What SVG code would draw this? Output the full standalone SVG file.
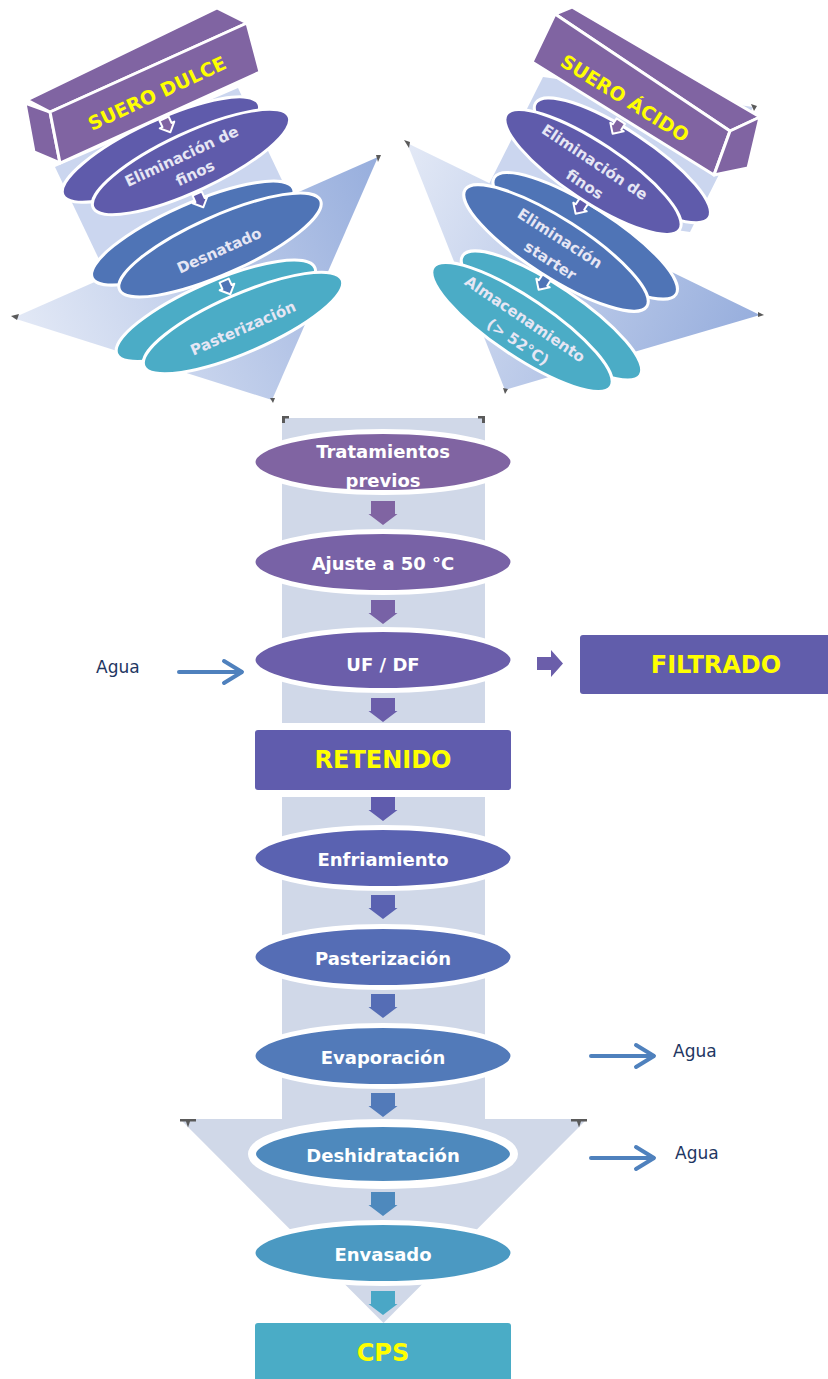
<svg xmlns="http://www.w3.org/2000/svg" width="828" height="1379" viewBox="0 0 828 1379">
  <defs>
    <style>
      .lbl{font-family:"Comic Sans MS","DejaVu Sans",sans-serif;font-weight:bold;font-size:18px;fill:#ffffff;text-anchor:middle}
      .yel{font-family:"Comic Sans MS","DejaVu Sans",sans-serif;font-weight:bold;font-size:24px;fill:#ffff00;text-anchor:middle}
      .tl{font-family:"Comic Sans MS","DejaVu Sans",sans-serif;font-weight:bold;font-size:15px;fill:#e6e6f4;text-anchor:middle}
      .ty{font-family:"Comic Sans MS","DejaVu Sans",sans-serif;font-weight:bold;font-size:19px;fill:#ffff00;text-anchor:middle}
      .agua{font-family:"Comic Sans MS","DejaVu Sans",sans-serif;font-size:17px;fill:#1f3763}
      .step{stroke:#ffffff;stroke-width:5}
      .disc{stroke:#ffffff;stroke-width:3}
      .box{stroke:#ffffff;stroke-width:3;stroke-linejoin:round}
      .flow{fill:none;stroke:#4f81bd;stroke-width:4;stroke-linecap:round;stroke-linejoin:round}
      .mk{fill:#5a5a5a}
      .back{fill:#d0d8e8}
      .mini{stroke:#ffffff;stroke-width:2;stroke-linejoin:round}
    </style>
    <linearGradient id="triL" gradientUnits="userSpaceOnUse" x1="13" y1="318" x2="378" y2="157">
      <stop offset="0" stop-color="#e3e9f6"/>
      <stop offset="1" stop-color="#97aedd"/>
    </linearGradient>
    <linearGradient id="triR" gradientUnits="userSpaceOnUse" x1="407" y1="143" x2="760" y2="315">
      <stop offset="0" stop-color="#e3e9f6"/>
      <stop offset="1" stop-color="#97aedd"/>
    </linearGradient>
    <!-- block arrow pointing down, top at y=0 -->
    <path id="dn" d="M-12,0 H12 V13 H14.5 L0,24 L-14.5,13 H-12 Z"/>
    <!-- small arrow between 3D discs -->
    <path id="mini" d="M-5,-7 H5 V0 H8 L0,8 L-8,0 H-5 Z"/>
  </defs>

  <!-- ===== Sweet whey cluster (top left) ===== -->
  <g id="cluster-dulce">
    <polygon points="55,167 238,88 300,218 117,297" fill="#cbd6ef"/>
    <polygon points="13,318 378,157 272,400" fill="url(#triL)"/>
    <path class="mk" d="M11,316 l8,-2 l-2,6 z M376,155 l5,0 l-3,7 z M270,398 l5,0 l-2,5 z"/>

    <g id="dulce-pasteurizacion" transform="translate(243,323) rotate(-23.6)">
      <ellipse cx="-20" cy="-22" rx="108" ry="29" fill="#4bacc6" class="disc"/>
      <ellipse cx="0" cy="0" rx="108" ry="29" fill="#4bacc6" class="disc"/>
      <text class="tl" x="-2" y="10">Pasterización</text>
    </g>
    <g id="dulce-desnatado" transform="translate(220,245) rotate(-24)">
      <ellipse cx="-20" cy="-22" rx="110" ry="29" fill="#4f74b6" class="disc"/>
      <ellipse cx="0" cy="0" rx="110" ry="29" fill="#4f74b6" class="disc"/>
      <text class="tl" x="-3" y="10">Desnatado</text>
    </g>
    <g id="dulce-finos" transform="translate(191,162) rotate(-25)">
      <ellipse cx="-22" cy="-24" rx="108" ry="29" fill="#5f5bab" class="disc"/>
      <ellipse cx="0" cy="0" rx="108" ry="29" fill="#5f5bab" class="disc"/>
      <text class="tl" x="-6" y="-4">Eliminación de</text>
      <text class="tl" x="-1" y="17">finos</text>
    </g>
    <g id="suero-dulce">
      <polygon class="box" points="25,103 50,112 60,163 34,152" fill="#8064a2"/>
      <polygon class="box" points="27,100 217,8 247,23 50,112" fill="#8064a2"/>
      <polygon class="box" points="50,112 247,23 260,72 60,163" fill="#8064a2"/>
      <text class="ty" transform="translate(157,93) rotate(-25)" y="7">SUERO DULCE</text>
    </g>
  </g>

  <!-- ===== Acid whey cluster (top right) ===== -->
  <g id="cluster-acido">
    <polygon points="543,77 753,107 690,232 480,202" fill="#cbd6ef"/>
    <polygon points="407,143 760,315 505,390" fill="url(#triR)"/>
    <path class="mk" d="M404,140 l6,2 l-1,6 z M758,312 l6,3 l-6,2 z M503,388 l5,1 l-3,5 z M751,104 l6,2 l-3,5 z"/>

    <g id="acido-almacenamiento" transform="translate(522,327) rotate(34)">
      <ellipse cx="18" cy="-26" rx="107" ry="29" fill="#4bacc6" class="disc"/>
      <ellipse cx="0" cy="0" rx="107" ry="29" fill="#4bacc6" class="disc"/>
      <text class="tl" x="-2" y="-3">Almacenamiento</text>
      <text class="tl" x="5" y="20">(&gt; 52°C)</text>
    </g>
    <g id="acido-starter" transform="translate(556,248) rotate(32.7)">
      <ellipse cx="18" cy="-26" rx="108" ry="29" fill="#4f74b6" class="disc"/>
      <ellipse cx="0" cy="0" rx="108" ry="29" fill="#4f74b6" class="disc"/>
      <text class="tl" x="-2" y="-5">Eliminación</text>
      <text class="tl" x="2" y="19">starter</text>
    </g>
    <g id="acido-finos" transform="translate(593,172) rotate(33.6)">
      <ellipse cx="18" cy="-26" rx="104" ry="29" fill="#5f5bab" class="disc"/>
      <ellipse cx="0" cy="0" rx="104" ry="29" fill="#5f5bab" class="disc"/>
      <text class="tl" x="-4" y="-4">Eliminación de</text>
      <text class="tl" x="0" y="20">finos</text>
    </g>
    <g id="suero-acido">
      <polygon class="box" points="555,14 572,7 760,117 730,131" fill="#8064a2"/>
      <polygon class="box" points="532,62 555,14 730,131 714,175" fill="#8064a2"/>
      <polygon class="box" points="730,131 760,117 748,168 714,175" fill="#8064a2"/>
      <text class="ty" transform="translate(625,98) rotate(32)" y="7">SUERO ÁCIDO</text>
    </g>
  </g>

  <!-- ===== Main process column backdrop ===== -->
  <g id="backdrop">
    <rect class="back" x="282" y="418" width="203" height="305"/>
    <rect class="back" x="282" y="797" width="203" height="322"/>
    <polygon class="back" points="180,1119 587,1119 383.5,1323"/>
    <path class="mk" d="M282,416 h7 v2.5 h-4 v4.5 h-3 z M485,416 h-7 v2.5 h4 v4.5 h3 z"/>
    <path class="mk" d="M180,1119 h16 v2.5 h-6 l-2,6 l-2,-6 h-6 z M587,1119 h-16 v2.5 h6 l2,6 l2,-6 h6 z"/>
  </g>

  <!-- ===== Connectors ===== -->
  <g id="connectors">
    <use href="#dn" x="383" y="501" fill="#8064a2"/>
    <use href="#dn" x="383" y="600" fill="#7862a6"/>
    <use href="#dn" x="383" y="698" fill="#6b5eaa"/>
    <use href="#dn" x="383" y="797" fill="#605cad"/>
    <use href="#dn" x="383" y="895" fill="#5a62b1"/>
    <use href="#dn" x="383" y="994" fill="#556db5"/>
    <use href="#dn" x="383" y="1093" fill="#527ab9"/>
    <use href="#dn" x="383" y="1192" fill="#4e89bd"/>
    <use href="#dn" x="383" y="1291" fill="#4aa7c6"/>
    <!-- permeate outlet -->
    <path d="M537,657 H551 V650 L563,663.5 L551,677 V670 H537 Z" fill="#6b5eaa"/>
    <!-- water in / water out -->
    <path class="flow" d="M179,672 H241 M224,661 L242,672 L224,683"/>
    <path class="flow" d="M591,1056 H653 M636,1045 L654,1056 L636,1067"/>
    <path class="flow" d="M591,1158 H653 M636,1147 L654,1158 L636,1169"/>
    <!-- small arrows inside the 3D stacks -->
    <use href="#mini" class="mini" fill="#8064a2" transform="translate(167,125) rotate(-25)"/>
    <use href="#mini" class="mini" fill="#5f5bab" transform="translate(200,200) rotate(-24)"/>
    <use href="#mini" class="mini" fill="#4f74b6" transform="translate(227,287) rotate(-24)"/>
    <use href="#mini" class="mini" fill="#8064a2" transform="translate(617,127) rotate(33)"/>
    <use href="#mini" class="mini" fill="#5f5bab" transform="translate(580,207) rotate(33)"/>
    <use href="#mini" class="mini" fill="#4f74b6" transform="translate(543,283) rotate(33)"/>
  </g>

  <!-- ===== Process steps ===== -->
  <g id="n-tratamientos">
    <ellipse class="step" cx="383" cy="462" rx="130" ry="30.5" fill="#8064a2"/>
    <text class="lbl" x="383" y="458">Tratamientos</text>
    <text class="lbl" x="383" y="487">previos</text>
  </g>
  <g id="n-ajuste">
    <ellipse class="step" cx="383" cy="562" rx="130" ry="30.5" fill="#7862a6"/>
    <text class="lbl" x="383" y="570">Ajuste a 50 °C</text>
  </g>
  <g id="n-ufdf">
    <ellipse class="step" cx="383" cy="660" rx="130" ry="30.5" fill="#6b5eaa"/>
    <text class="lbl" x="383" y="671">UF / DF</text>
  </g>
  <g id="n-retenido">
    <rect x="255" y="730" width="256" height="60" rx="3" fill="#605cad"/>
    <text class="yel" x="383" y="768">RETENIDO</text>
  </g>
  <g id="n-filtrado">
    <rect x="580" y="635" width="254" height="59" rx="3" fill="#615dab"/>
    <text class="yel" x="716" y="673">FILTRADO</text>
  </g>
  <g id="n-enfriamiento">
    <ellipse class="step" cx="383" cy="858" rx="130" ry="30.5" fill="#5a62b1"/>
    <text class="lbl" x="383" y="866">Enfriamiento</text>
  </g>
  <g id="n-pasterizacion">
    <ellipse class="step" cx="383" cy="957" rx="130" ry="30.5" fill="#556db5"/>
    <text class="lbl" x="383" y="965">Pasterización</text>
  </g>
  <g id="n-evaporacion">
    <ellipse class="step" cx="383" cy="1056" rx="130" ry="30.5" fill="#527ab9"/>
    <text class="lbl" x="383" y="1064">Evaporación</text>
  </g>
  <g id="n-deshidratacion">
    <ellipse cx="383" cy="1154" rx="131" ry="31" fill="#4e89bd" stroke="#ffffff" stroke-width="8"/>
    <text class="lbl" x="383" y="1162">Deshidratación</text>
  </g>
  <g id="n-envasado">
    <ellipse class="step" cx="383" cy="1253" rx="130" ry="30.5" fill="#4b99c2"/>
    <text class="lbl" x="383" y="1261">Envasado</text>
  </g>
  <g id="n-cps">
    <rect x="255" y="1323" width="256" height="60" rx="3" fill="#4aacc6"/>
    <text class="yel" x="383" y="1361" font-size="22">CPS</text>
  </g>

  <!-- water labels -->
  <g id="n-agua-in"><text class="agua" x="96" y="673">Agua</text></g>
  <g id="n-agua-evap"><text class="agua" x="673" y="1057">Agua</text></g>
  <g id="n-agua-desh"><text class="agua" x="675" y="1159">Agua</text></g>
</svg>
